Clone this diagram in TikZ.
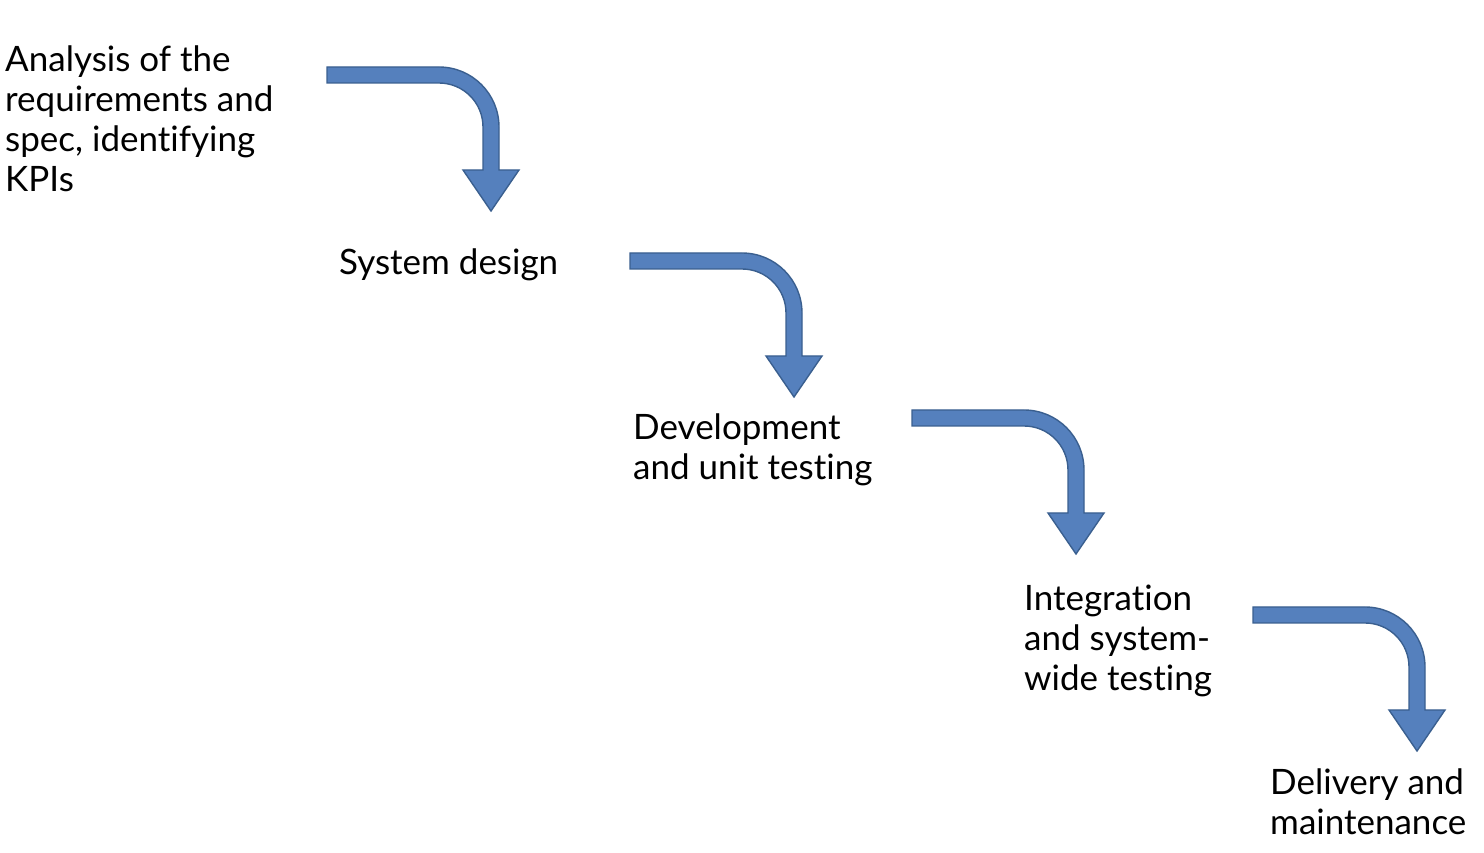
\documentclass[tikz,border=0pt]{standalone}
\usepackage{fontspec}
\setmainfont{Lato}[Ligatures=NoCommon]
\begin{document}
\begin{tikzpicture}[x=1pt,y=1pt,
  label/.style={anchor=base west,inner sep=0pt,align=left,
    font=\fontsize{35}{40}\selectfont},
  bendarrow/.pic={
    \path[fill=arrowfill,draw=arrowline,line width=1.4pt,line join=miter]
      (0,0) -- (112,0) arc[start angle=90,end angle=0,radius=60]
      -- (172,-103) -- (192,-103) -- (164,-144) -- (136,-103) -- (156,-103)
      -- (156,-60) arc[start angle=0,end angle=90,radius=44]
      -- (0,-16) -- cycle;
  }]
\definecolor{arrowfill}{HTML}{5580BD}
\definecolor{arrowline}{HTML}{3A5F8F}
\path[use as bounding box] (0,0) rectangle (1484,852);

% anchor base = baseline of the last line
\node[label] (analysis) at (5,660) {Analysis of the\\requirements and\\spec, identifying\\KPIs};
\node[label] (design) at (339,577) {System design};
\node[label] (dev) at (633,372) {Development\\and unit testing};
\node[label] (integ) at (1024,161) {Integration\\and system-\\wide testing};
\node[label] (deliv) at (1270,18) {Delivery and\\maintenance};

\pic (a1) at (327,785) {bendarrow};
\pic (a2) at (630,599) {bendarrow};
\pic (a3) at (912,442) {bendarrow};
\pic (a4) at (1253,245) {bendarrow};
\end{tikzpicture}
\end{document}
